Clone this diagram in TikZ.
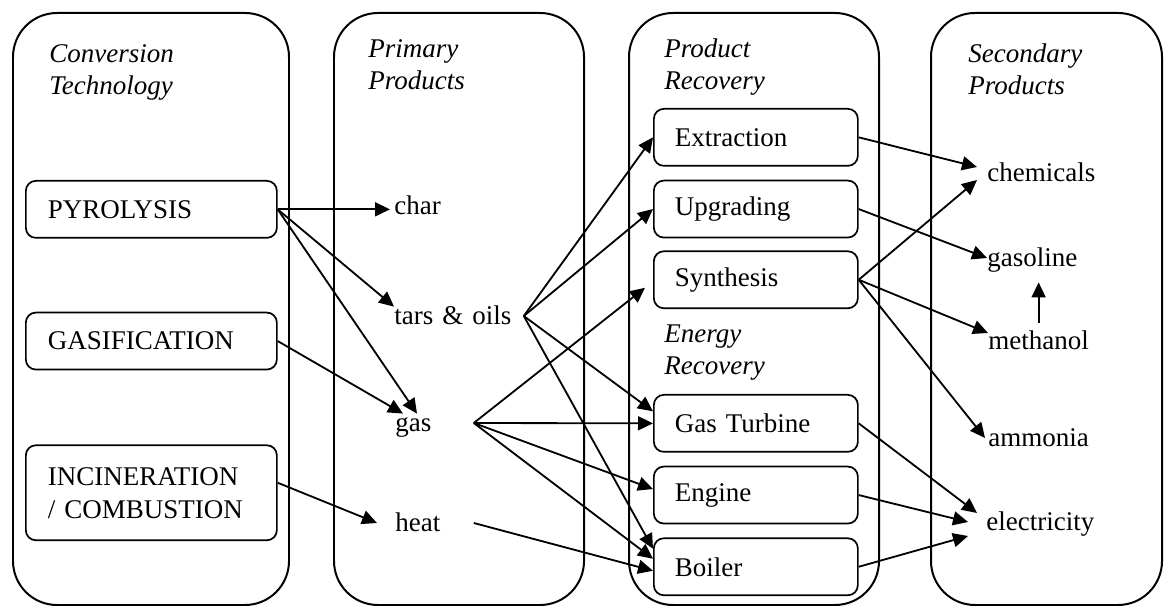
\documentclass[tikz,border=0pt]{standalone}
\usepackage{fontspec}
\setmainfont{Liberation Serif}
\usetikzlibrary{arrows.meta,positioning}

\begin{document}
\begin{tikzpicture}[x=0.5pt,y=-0.5pt,font=\fontsize{13.5}{16.5}\selectfont,
    line/.style={draw, -{Triangle[length=7.5pt,width=7pt]}, line width=0.32mm},
    column/.style={draw, rounded corners=22pt, line width=0.35mm},
    tech/.style={draw, rounded corners=5pt, line width=0.3mm, minimum width=125.5pt,
      minimum height=28.5pt, text width=103.5pt, align=left, inner xsep=11pt},
    unit/.style={tech, minimum width=102pt, text width=81pt, inner xsep=10.5pt},
    prod/.style={anchor=base west, inner sep=0pt, text height=9pt, text depth=0pt, align=left},
    head/.style={anchor=base west, inner sep=0pt, align=left,
      font=\fontsize{13.5}{16.2}\selectfont\itshape},
    ]
    \useasboundingbox (0,0) rectangle (1168,608);

    % Columns
    \foreach \a/\b in {13/289,334/584,629/879,931/1162}
      \draw [column] (\a,13) rectangle (\b,605);

    % Headings (placed at the baseline of their last line)
    \node [head] (hconv) at (49,95) {Conversion\\Technology};
    \node [head] (hprim) at (368,90) {Primary\\Products};
    \node [head] (hprod) at (664,90) {Product\\Recovery};
    \node [head] (hsec) at (968,95) {Secondary\\Products};
    \node [head] (henergy) at (664,375) {Energy\\Recovery};

    % Place nodes
    \node [tech, anchor=north west] (pyro) at (25,180) {PYROLYSIS};
    \node [tech, below=36.5pt of pyro] (gasif) {GASIFICATION};
    \node [tech, below=37pt of gasif, minimum height=47.5pt] (incin) {INCINERATION\\/ COMBUSTION};

    \node [prod] (char) at (394,215) {char};
    \node [prod, text width=64.5pt] (tars) at (394,325) {tars \& oils};
    \node [prod, text width=39pt] (gas) at (395,432) {gas};
    \node [prod, text width=39pt] (heat) at (395,532) {heat};

    \node [unit, anchor=north west] (extr) at (653,108) {Extraction};
    \node [unit, below=6.5pt of extr] (upgr) {Upgrading};
    \node [unit, below=6pt of upgr] (synth) {Synthesis};
    \node [unit, anchor=north west] (turb) at (653,394) {Gas Turbine};
    \node [unit, below=6.5pt of turb] (eng) {Engine};
    \node [unit, below=6.5pt of eng] (boil) {Boiler};

    \node [prod] (chem) at (987,182) {chemicals};
    \node [prod] (gasol) at (987,267) {gasoline};
    \node [prod] (meth) at (988,350) {methanol};
    \node [prod] (ammo) at (988,447) {ammonia};
    \node [prod] (elec) at (986,531) {electricity};

    % Draw edges
    \path [line, shorten >=2pt] (pyro.east) -- (pyro.east -| char.west);
    \path [line] (pyro.east) -- (tars.north west);
    \path [line] (pyro.east) -- ([xshift=11pt]gas.north west);
    \path [line] (gasif.east) -- ([xshift=4pt]gas.north west);
    \path [line] ([yshift=5pt]incin.east) -- ([xshift=-9pt]heat.west);

    \path [line] (tars.east) -- (extr.west);
    \path [line] (tars.east) -- (upgr.west);
    \path [line] (tars.east) -- ([yshift=6pt]turb.west);
    \path [line] (tars.east) -- ([yshift=9pt]boil.west);
    \path [line] (gas.east) -- ([xshift=-4pt,yshift=-4pt]synth.west);
    \path [line] (gas.east) -- (turb.west);
    \path [line] (gas.east) -- ([yshift=3pt]eng.west);
    \path [line] (gas.east) -- ([yshift=4pt]boil.west);
    \path [line] (heat.east) -- ([yshift=-2pt]boil.west);

    \path [line] (extr.east) -- ([xshift=-5pt,yshift=3pt]chem.west);
    \path [line] (upgr.east) -- (gasol.west);
    \path [line] (synth.east) -- ([xshift=-5pt,yshift=-3.5pt]chem.west);
    \path [line] (synth.east) -- ([yshift=4pt]meth.west);
    \path [line] (synth.east) -- ([xshift=-1.5pt]ammo.west);
    \path [line] (turb.east) -- ([xshift=-4.5pt,yshift=4.5pt]elec.west);
    \path [line] (eng.east) -- ([xshift=-9pt]elec.west);
    \path [line] (boil.east) -- ([xshift=-9pt,yshift=-7pt]elec.west);
    \path [line, shorten <=4.5pt, shorten >=7.5pt] (meth.north) -- (meth.north |- gasol.south);
  \end{tikzpicture}
\end{document}
